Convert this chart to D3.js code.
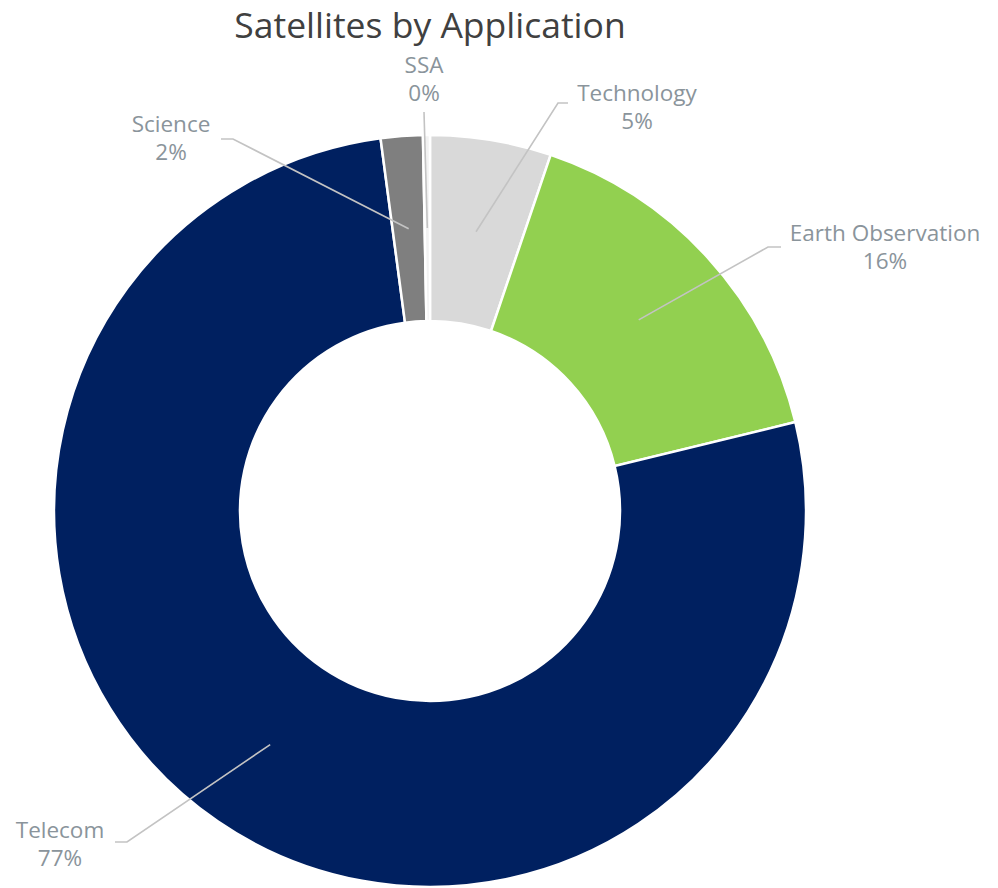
<!DOCTYPE html>
<html>
<head>
<meta charset="utf-8">
<script src="https://cdn.jsdelivr.net/npm/d3@7"></script>
<style>
  html, body { margin: 0; padding: 0; background: #ffffff; }
  svg { display: block; }
</style>
</head>
<body>
<div id="chart"></div>
<script>
// Share of satellites by application (percent), clockwise from 12 o'clock
const categories = ["Technology", "Earth Observation", "Telecom", "Science", "SSA"];
const shares = [5.2, 16.0, 76.7, 1.8, 0.3];
const sliceColors = ["#D9D9D9", "#92D050", "#002060", "#7F7F7F", "#F2F2F2"];
const titleText = "Satellites by Application";

const width = 998, height = 888;
const cx = 430, cy = 511;
const outerR = 376, innerR = 190;

// Callout placement for each label: text centre/baseline and the elbow of its leader line
const calloutLayout = {
  "Technology":        { tx: 637, ty: 101, ex: 558, ey: 103, hx: 568 },
  "Earth Observation": { tx: 885, ty: 241, ex: 768, ey: 247, hx: 781 },
  "Telecom":           { tx: 60,  ty: 838, ex: 127, ey: 842, hx: 115 },
  "Science":           { tx: 171, ty: 132, ex: 233, ey: 139, hx: 221 },
  "SSA":               { tx: 424, ty: 73,  ex: 424, ey: 112, hx: 424 }
};

const data = categories.map((c, i) => ({ name: c, value: shares[i], color: sliceColors[i] }));

const svg = d3.select("#chart").append("svg")
  .attr("width", width).attr("height", height);

const pie = d3.pie().sort(null).value(d => d.value).startAngle(0).endAngle(2 * Math.PI);
const arcs = pie(data);
const total = d3.sum(shares);

const arc = d3.arc().innerRadius(innerR).outerRadius(outerR);
const midArc = d3.arc().innerRadius((innerR + outerR) / 2).outerRadius((innerR + outerR) / 2);

const g = svg.append("g").attr("transform", `translate(${cx},${cy})`);

g.selectAll("path.slice")
  .data(arcs)
  .join("path")
  .attr("class", "slice")
  .attr("d", arc)
  .attr("fill", d => d.data.color)
  .attr("stroke", "#ffffff")
  .attr("stroke-width", 2.5)
  .attr("stroke-linejoin", "miter");

// Leader lines from the ring's mid-radius out to each callout
const lines = svg.append("g");
arcs.forEach(d => {
  const L = calloutLayout[d.data.name];
  const [mx, my] = midArc.centroid(d);
  const pts = [[cx + mx, cy + my], [L.ex, L.ey], [L.hx, L.ey]];
  lines.append("path")
    .attr("d", d3.line()(pts))
    .attr("fill", "none")
    .attr("stroke", "#C3C3C3")
    .attr("stroke-width", 1.6);
});

// Callout text: category name and rounded share
const fmt = v => Math.round(v / total * 100) + "%";
const labels = svg.append("g")
  .attr("font-family", "'Open Sans', 'DejaVu Sans', sans-serif")
  .attr("font-size", 22.5)
  .attr("fill", "#8A949B")
  .attr("text-anchor", "middle");
arcs.forEach(d => {
  const L = calloutLayout[d.data.name];
  const t = labels.append("text").attr("x", L.tx).attr("y", L.ty);
  t.append("tspan").attr("x", L.tx).text(d.data.name);
  t.append("tspan").attr("x", L.tx).attr("dy", 28).text(fmt(d.data.value));
});

svg.append("text")
  .attr("x", cx).attr("y", 38)
  .attr("text-anchor", "middle")
  .attr("font-family", "'Open Sans', 'DejaVu Sans', sans-serif")
  .attr("font-size", 35.5)
  .attr("fill", "#404040")
  .text(titleText);
</script>
</body>
</html>
